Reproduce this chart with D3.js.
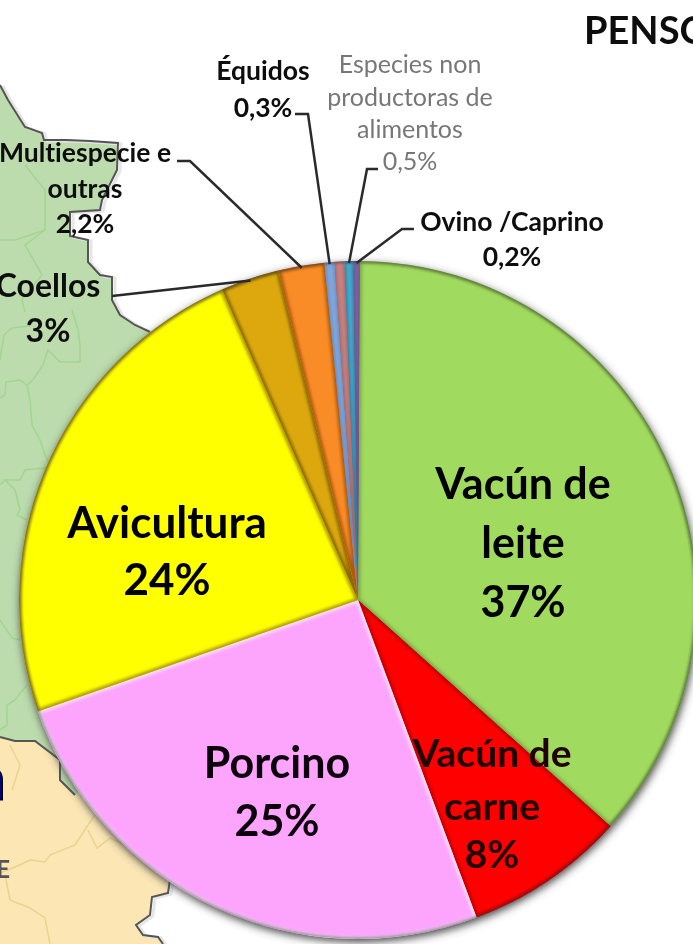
<!DOCTYPE html>
<html>
<head>
<meta charset="utf-8">
<script src="https://cdn.jsdelivr.net/npm/d3@7"></script>
<style>
  html, body { margin: 0; padding: 0; background: #fff; overflow: hidden; }
  svg { display: block; font-family: Lato, sans-serif; font-weight: 700; font-variant-ligatures: none; }
</style>
</head>
<body>
<div id="chart"></div>
<script>
const width = 693;
const height = 944;

const categories = ['Vacún de leite', 'Vacún de carne', 'Porcino', 'Avicultura', 'Coellos',
  'Multiespecie e outras', 'Équidos', '', 'Especies non productoras de alimentos', 'Ovino /Caprino'];
const shares = [36.6, 7.7, 25.4, 23.8, 2.8, 2.2, 0.47, 0.47, 0.42, 0.3];
const sliceColors = ['#a0da5e', '#fe0000', '#fda5fd', '#ffff00', '#dca80c',
  '#f98c28', '#7ea6dc', '#c5807f', '#46a8cc', '#8064a2'];
const bevelColors = ['#7fae48', '#c00000', '#f8e0f8', '#b09a10', '#8a6a05',
  '#b05a10', '#5f85b8', '#9a6060', '#2a7090', '#60508a'];

// map behind the pie
const greenLand = [[0, 85], [8, 100], [25, 127], [42, 133], [44, 140], [66, 140], [90, 141], [118, 143], [117, 170],
  [102, 200], [100, 210], [70, 212], [70, 236], [88, 240], [88, 262], [100, 275], [112, 277], [112, 300], [120, 315],
  [135, 325], [150, 332], [358, 600], [75, 795], [60, 780], [60, 760], [35, 741], [15, 741], [0, 737]];
const tanLand = [[0, 737], [15, 741], [35, 741], [60, 760], [60, 780], [75, 795], [358, 600], [170, 880], [168, 893],
  [152, 897], [150, 915], [136, 925], [143, 935], [158, 937], [163, 944], [0, 944]];
const greenBorders = [
  [[72, 310], [78, 330], [80, 345], [80, 362], [60, 362], [48, 350], [43, 365], [33, 380], [27, 385], [30, 400], [32, 425], [40, 440], [45, 455], [50, 465]],
  [[50, 465], [45, 468], [25, 470], [20, 480], [5, 480], [0, 485]],
  [[5, 480], [15, 490], [20, 510], [17, 515], [27, 520]],
  [[0, 398], [5, 395], [6, 382], [20, 380], [27, 385]],
  [[0, 360], [4, 335], [12, 328], [30, 326]],
  [[25, 165], [45, 190], [45, 230], [15, 240], [0, 240]],
  [[45, 230], [25, 245], [42, 275], [22, 300], [25, 312]],
  [[0, 620], [8, 632], [12, 638], [20, 640]],
  [[27, 685], [15, 700], [7, 705], [7, 725], [0, 730]]
];
const tanBorders = [
  [[10, 745], [20, 765], [12, 790]],
  [[0, 873], [15, 867], [30, 860], [45, 862], [50, 855], [75, 845], [88, 825], [95, 815]],
  [[88, 830], [97, 848], [110, 838], [125, 845]],
  [[5, 875], [10, 900], [30, 908], [45, 918], [50, 944]]
];

// text written on the slices
const sliceLabels = [
  { lines: ['Vacún de', 'leite', '37%'], x: 523, ys: [499, 558, 617], size: 43, fill: '#000' },
  { lines: ['Vacún de', 'carne', '8%'], x: 492, ys: [767, 820, 868], size: 39, fill: '#200404' },
  { lines: ['Porcino', '25%'], x: 277, ys: [778, 836], size: 43, fill: '#100510' },
  { lines: ['Avicultura', '24%'], x: 167, ys: [538, 595], size: 44, fill: '#000' }
];

// outside labels and the elbow of their leader line
const outerLabels = [
  { slice: 4, lines: ['Coellos', '3%'], x: 48, ys: [297, 342], size: 32, fill: '#111', elbow: [[112, 296]] },
  { slice: 5, lines: ['Multiespecie e', 'outras', '2,2%'], x: 85, ys: [162, 198, 233], size: 26.5, fill: '#111', elbow: [[177, 161], [190, 161]] },
  { slice: 6, lines: ['Équidos', '0,3%'], x: 263, ys: [80, 117], size: 26.5, fill: '#111', elbow: [[295, 114], [308, 114]] },
  { slice: 8, lines: ['Especies non', 'productoras de', 'alimentos', '0,5%'], x: 410, ys: [73, 106, 138, 170], size: 25, fill: '#777', weight: 400, elbow: [[378, 169], [367, 169]] },
  { slice: 9, lines: ['Ovino /Caprino', '0,2%'], x: 512, ys: [231, 266], size: 26.5, fill: '#111', elbow: [[414, 229], [402, 229]] }
];

const cx = 358;
const cy = 600;
const radius = 339;

const svg = d3.select('#chart').append('svg')
  .attr('width', width)
  .attr('height', height);

const defs = svg.append('defs');
defs.append('filter').attr('id', 'soft').append('feGaussianBlur').attr('stdDeviation', 0.6);
defs.append('filter').attr('id', 'bevel').append('feGaussianBlur').attr('stdDeviation', 1.5);
defs.append('filter').attr('id', 'shadow')
  .attr('x', '-10%').attr('y', '-10%').attr('width', '120%').attr('height', '120%')
  .append('feGaussianBlur').attr('stdDeviation', 4);
defs.append('clipPath').attr('id', 'pie-clip').append('circle').attr('r', radius);

const root = svg.append('g').attr('filter', 'url(#soft)');

// --- map ---
const line = d3.line();
const map = root.append('g');

map.append('path').attr('d', line(greenLand) + 'Z').attr('fill', '#bcdcae');
map.append('path').attr('d', line(tanLand) + 'Z').attr('fill', '#fbe6b4');

map.selectAll('.green-border')
  .data(greenBorders)
  .enter()
  .append('path')
  .classed('green-border', true)
  .attr('d', line)
  .attr('fill', 'none')
  .attr('stroke', '#a2d68f')
  .attr('stroke-width', 1.5);

map.selectAll('.tan-border')
  .data(tanBorders)
  .enter()
  .append('path')
  .classed('tan-border', true)
  .attr('d', line)
  .attr('fill', 'none')
  .attr('stroke', '#e8d48e')
  .attr('stroke-width', 1.5);

// coast, with the pale grey edge on the sea side
const coasts = [greenLand.slice(0, 21), tanLand.slice(7, 15)];
coasts.forEach(coast => {
  map.append('path')
    .attr('d', line(coast))
    .attr('transform', 'translate(3, 1)')
    .attr('fill', 'none')
    .attr('stroke', '#e6e6e6')
    .attr('stroke-width', 3);
  map.append('path')
    .attr('d', line(coast))
    .attr('fill', 'none')
    .attr('stroke', '#555')
    .attr('stroke-width', 2);
});
map.append('path')
  .attr('d', line(greenLand.slice(22).reverse()))
  .attr('fill', 'none')
  .attr('stroke', '#555')
  .attr('stroke-width', 2);

// cropped pieces of the map's own lettering
root.append('text')
  .attr('x', 6).attr('y', 800)
  .attr('text-anchor', 'end')
  .attr('font-size', 62)
  .attr('fill', '#000080')
  .attr('stroke', '#000')
  .text('n');
root.append('text')
  .attr('x', 10).attr('y', 878)
  .attr('text-anchor', 'end')
  .attr('font-size', 24)
  .attr('fill', '#555')
  .text('E');

// --- pie ---
const startAngle = 0.3 * Math.PI / 180;
const pie = d3.pie().sort(null).startAngle(startAngle).endAngle(2 * Math.PI + startAngle);
const arcs = pie(shares);
const arc = d3.arc().innerRadius(0).outerRadius(radius);
const rimArc = d3.arc().innerRadius(radius - 2).outerRadius(radius - 2);

const pieG = root.append('g').attr('transform', `translate(${cx}, ${cy})`);

pieG.append('circle')
  .attr('cx', 1).attr('cy', 3)
  .attr('r', radius)
  .attr('fill', '#444')
  .attr('filter', 'url(#shadow)');

arcs.forEach((d, i) => {
  const g = pieG.append('g').classed('slice', true);
  g.append('clipPath')
    .attr('id', `slice-clip-${i}`)
    .append('path')
    .attr('d', arc(d));
  g.append('path')
    .attr('d', arc(d))
    .attr('fill', sliceColors[i])
    .append('title')
    .text(categories[i]);
  g.append('g')
    .attr('clip-path', `url(#slice-clip-${i})`)
    .append('path')
    .attr('d', arc(d))
    .attr('fill', 'none')
    .attr('stroke', bevelColors[i])
    .attr('stroke-width', i > 5 ? 2 : 5)
    .attr('filter', 'url(#bevel)');
});

// dark rim round the whole pie
pieG.append('g')
  .attr('clip-path', 'url(#pie-clip)')
  .append('circle')
  .attr('r', radius)
  .attr('fill', 'none')
  .attr('stroke', '#333')
  .attr('stroke-opacity', 0.55)
  .attr('stroke-width', 3)
  .attr('filter', 'url(#bevel)');

// --- leaders ---
outerLabels.forEach(d => {
  const [ex, ey] = rimArc.centroid(arcs[d.slice]);
  root.append('path')
    .attr('d', line(d.elbow.concat([[cx + ex, cy + ey]])))
    .attr('fill', 'none')
    .attr('stroke', '#2a2a2a')
    .attr('stroke-width', 2.5);
});

// --- text ---
const drawLabel = d => {
  const t = root.append('text')
    .attr('text-anchor', 'middle')
    .attr('font-size', d.size)
    .attr('font-weight', d.weight || 700)
    .attr('fill', d.fill);
  d.lines.forEach((s, i) => {
    t.append('tspan').attr('x', d.x).attr('y', d.ys[i]).text(s);
  });
};
outerLabels.forEach(drawLabel);
sliceLabels.forEach(drawLabel);

root.append('text')
  .attr('x', 584).attr('y', 44)
  .attr('font-size', 38)
  .attr('fill', '#111')
  .text('PENSOS');
</script>
</body>
</html>
